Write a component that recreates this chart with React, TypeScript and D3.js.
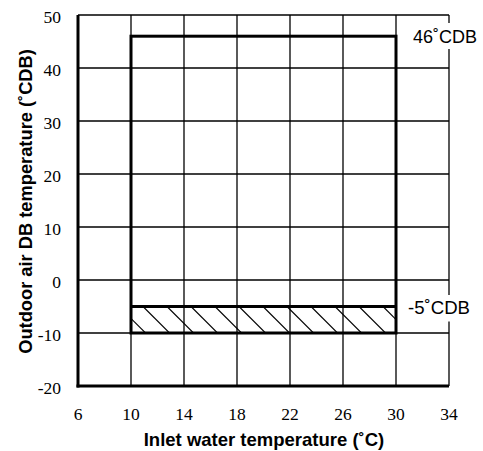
import React from "react";
import * as d3 from "d3";

const xTicks = [6, 10, 14, 18, 22, 26, 30, 34];
const yTicks = [-20, -10, 0, 10, 20, 30, 40, 50];
const rangeX = [10, 30];
const rangeY = [-10, 46];
const hatchY = [-10, -5];
const labels = [
  { text: "46˚CDB", value: 46, x: 413, base: 42.5, len: 64, boxTop: 23, boxBot: 49 },
  { text: "-5˚CDB", value: -5, x: 408, base: 313.5, len: 62, boxTop: 295, boxBot: 321.5 },
];

const W = 483, H = 451;
const margin = { left: 78, right: 34, top: 15, bottom: 65 };
const SANS = "Liberation Sans";
const SERIF = "Liberation Serif";

export default function App() {
  const x = d3.scaleLinear().domain([6, 34]).range([margin.left, W - margin.right]);
  const y = d3.scaleLinear().domain([-20, 50]).range([H - margin.bottom, margin.top]);
  const x0 = x(rangeX[0]), x1 = x(rangeX[1]);
  const hy0 = y(hatchY[1]), hy1 = y(hatchY[0]);
  const hh = hy1 - hy0;
  const step = 24;
  const hatch: number[] = [];
  for (let s = x0 + 12 - step; s < x1; s += step) hatch.push(s);
  return (
    <svg width={W} height={H} style={{ position: "absolute", left: 0, top: 0, background: "#fff" }}>
      <defs>
        <clipPath id="hc">
          <rect x={x0} y={hy0} width={x1 - x0} height={hh} />
        </clipPath>
      </defs>
      <rect x={0} y={0} width={W} height={H} fill="#fff" />
      {xTicks.map((t) => (
        <line key={"gx" + t} x1={x(t)} x2={x(t)} y1={y(50)} y2={y(-20)} stroke="#000" strokeWidth={1.3} />
      ))}
      {yTicks.map((t) => (
        <line key={"gy" + t} x1={x(6)} x2={x(34)} y1={y(t)} y2={y(t)} stroke="#000" strokeWidth={1.3} />
      ))}
      <g clipPath="url(#hc)">
        {hatch.map((s, i) => (
          <line key={i} x1={s} y1={hy0} x2={s + hh} y2={hy1} stroke="#000" strokeWidth={1.1} />
        ))}
      </g>
      <rect x={x0} y={y(rangeY[1])} width={x1 - x0} height={y(rangeY[0]) - y(rangeY[1])} fill="none" stroke="#000" strokeWidth={3} />
      <line x1={x0} x2={x1} y1={hy0} y2={hy0} stroke="#000" strokeWidth={3} />
      <line x1={x(6)} x2={x(6)} y1={y(50)} y2={y(-20) + 1.5} stroke="#000" strokeWidth={3} />
      <line x1={x(6) - 1.5} x2={x(34)} y1={y(-20)} y2={y(-20)} stroke="#000" strokeWidth={3} />
      {labels.map((l) => (
        <g key={l.text}>
          <rect x={l.x - 3} y={l.boxTop} width={l.len + 6} height={l.boxBot - l.boxTop} fill="#fff" />
          <text x={l.x} y={l.base} fontFamily={SANS} fontSize={17.5} textLength={l.len} lengthAdjust="spacingAndGlyphs">
            {l.text}
          </text>
        </g>
      ))}
      {yTicks.map((t) => (
        <text key={"ty" + t} x={61} y={y(t) + 7.5} textAnchor="end" fontFamily={SERIF} fontSize={17.5}>
          {t}
        </text>
      ))}
      {xTicks.map((t) => (
        <text key={"tx" + t} x={x(t)} y={420} textAnchor="middle" fontFamily={SERIF} fontSize={17.5}>
          {t}
        </text>
      ))}
      <text x={(x(6) + x(34)) / 2 + 0.5} y={446} textAnchor="middle" fontFamily={SANS} fontWeight="bold" fontSize={18.5}>
        Inlet water temperature (˚C)
      </text>
      <text transform={`translate(32, ${(48 + 355) / 2}) rotate(-90)`} textAnchor="middle" fontFamily={SANS} fontWeight="bold" fontSize={18.3}>
        Outdoor air DB temperature (˚CDB)
      </text>
    </svg>
  );
}
